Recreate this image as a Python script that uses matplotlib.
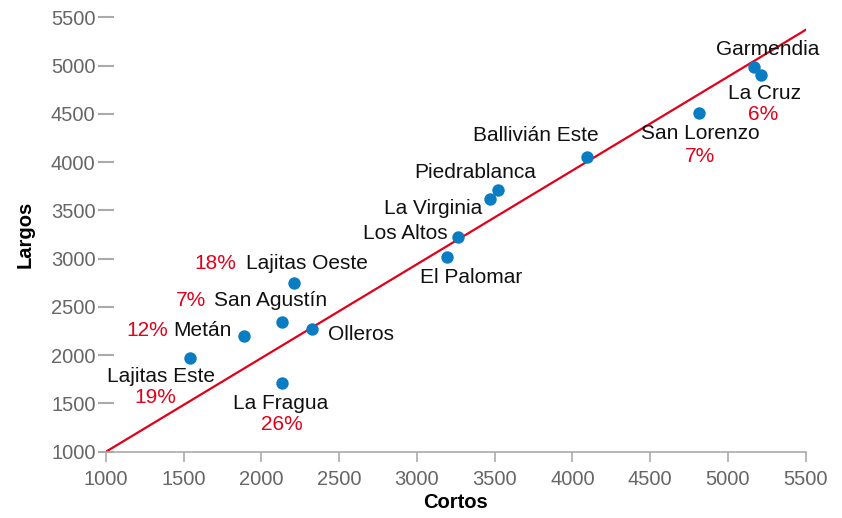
import matplotlib.pyplot as plt

# datos
nombres = ['Garmendia', 'La Cruz', 'San Lorenzo', 'Ballivián Este', 'Piedrablanca',
           'La Virginia', 'Los Altos', 'El Palomar', 'Lajitas Oeste', 'San Agustín',
           'Olleros', 'Metán', 'Lajitas Este', 'La Fragua']
cortos = [5170, 5213, 4816, 4092, 3523, 3467, 3262, 3195, 2209, 2130, 2325, 1890, 1542, 2130]
largos = [4988, 4902, 4506, 4048, 3711, 3614, 3225, 3022, 2750, 2343, 2268, 2195, 1971, 1713]
porcentajes = ['', '6%', '7%', '', '', '', '', '', '18%', '7%', '', '12%', '19%', '26%']

# linea de referencia
linea_x = [1000, 5500]
linea_y = [1000, 5370]

ticks = [1000, 1500, 2000, 2500, 3000, 3500, 4000, 4500, 5000, 5500]

# posicion de etiquetas (offset en pixeles, alineacion)
etiq_pos = {
    'Garmendia': ((13, 17), 'center'),
    'La Cruz': ((3, -18), 'center'),
    'San Lorenzo': ((1, -20), 'center'),
    'Ballivián Este': ((-51, 22), 'center'),
    'Piedrablanca': ((-23, 17), 'center'),
    'La Virginia': ((-7, -9), 'right'),
    'Los Altos': ((-10, 3), 'right'),
    'El Palomar': ((-27, -21), 'left'),
    'Lajitas Oeste': ((13, 19), 'center'),
    'San Agustín': ((-11, 22), 'center'),
    'Olleros': ((16, -5), 'left'),
    'Metán': ((-13, 6), 'right'),
    'Lajitas Este': ((-29, -19), 'center'),
    'La Fragua': ((-1, -21), 'center'),
}
pct_pos = {
    'La Cruz': (2, -39),
    'San Lorenzo': (1, -43),
    'Lajitas Oeste': (-79, 19),
    'San Agustín': (-91, 22),
    'Metán': (-97, 6),
    'Lajitas Este': (-35, -40),
    'La Fragua': (0, -42),
}

plt.rcParams['font.family'] = ['Liberation Sans', 'DejaVu Sans']

fig = plt.figure(figsize=(8.42, 5.18), dpi=100)
ax = fig.add_axes([0.1259, 0.128, 0.831, 0.8386])

ax.plot(linea_x, linea_y, color='#e2001a', lw=1.6, zorder=2)
ax.scatter(cortos, largos, s=80, color='#0a7cc1', zorder=3, linewidths=0)

for i, n in enumerate(nombres):
    (dx, dy), ha = etiq_pos[n]
    ax.annotate(n, (cortos[i], largos[i]), xytext=(dx, dy), textcoords='offset pixels',
                ha=ha, va='center', fontsize=15, color='#111111')
    if porcentajes[i]:
        px, py = pct_pos[n]
        ax.annotate(porcentajes[i], (cortos[i], largos[i]), xytext=(px, py),
                    textcoords='offset pixels', ha='center', va='center',
                    fontsize=15, color='#e2001a')

ax.set_xlim(1000, 5500)
ax.set_ylim(1000, 5500)
ax.set_xticks(ticks)
ax.set_yticks(ticks)

for s in ['top', 'right', 'left']:
    ax.spines[s].set_visible(False)
ax.spines['bottom'].set_color('#aaaaaa')
ax.spines['bottom'].set_linewidth(1.2)

ax.tick_params(axis='x', direction='out', length=7, width=1.2, color='#aaaaaa',
               labelsize=14.5, labelcolor='#666666', pad=6)
ax.tick_params(axis='y', direction='inout', length=11, width=1.5, color='#aaaaaa',
               labelsize=14.5, labelcolor='#666666', pad=2)

ax.set_xlabel('Cortos', fontsize=14.5, fontweight='bold', labelpad=3)
ax.set_ylabel('Largos', fontsize=14.5, fontweight='bold', labelpad=12)

fig.savefig('out.png', dpi=100)
